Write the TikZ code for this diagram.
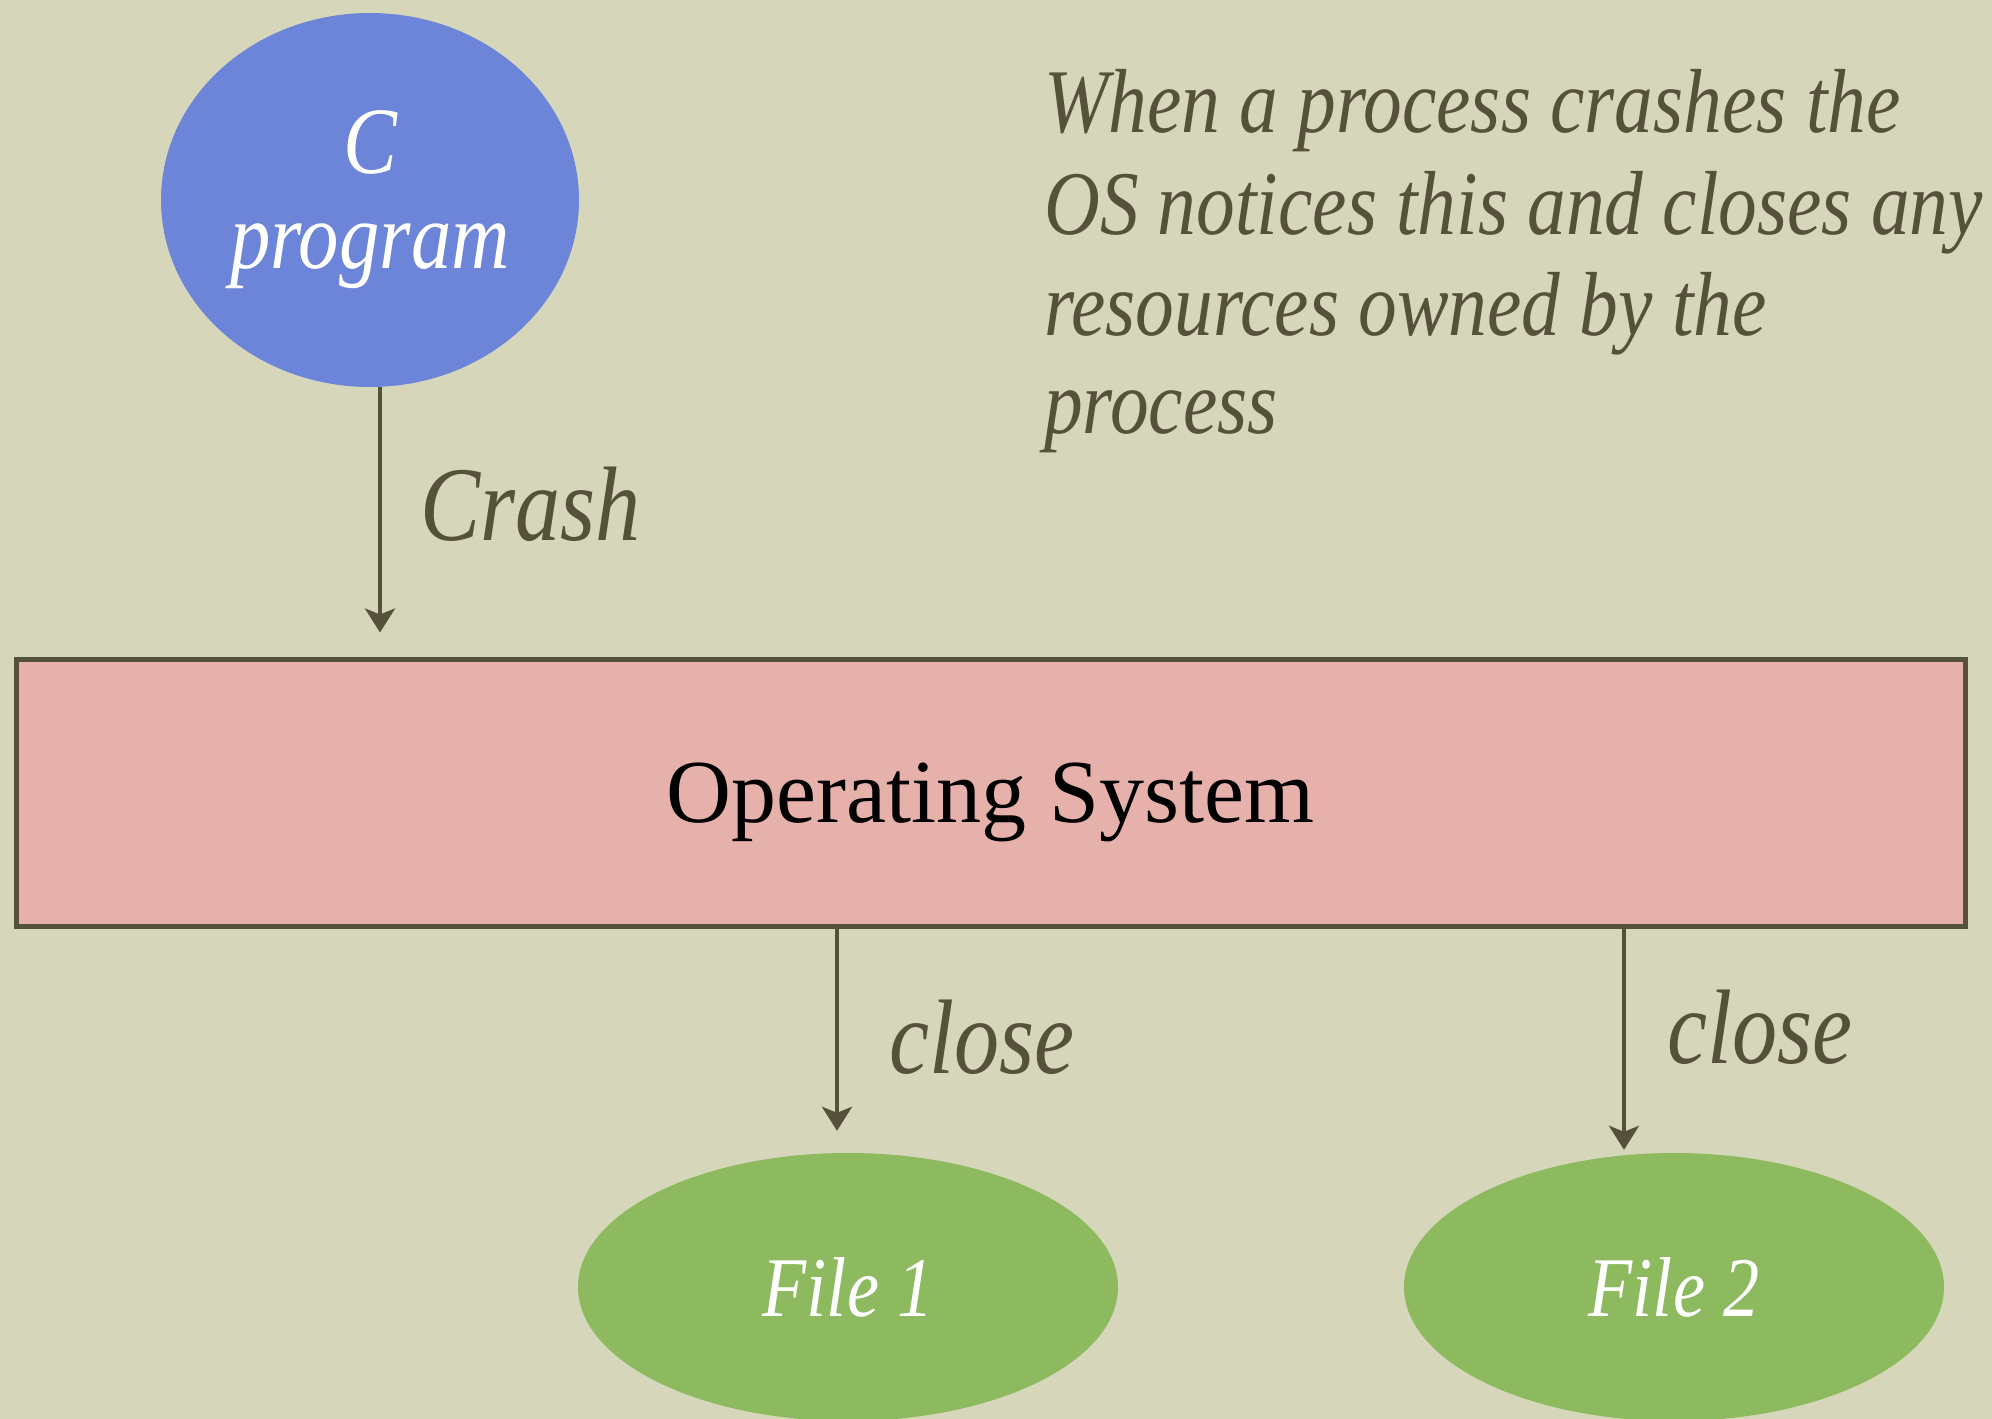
\documentclass[tikz,border=0pt]{standalone}
\usepackage{fontspec}
\setmainfont{Liberation Serif}
\newfontfamily\itf[FakeStretch=0.85,UprightFont={* Italic}]{Liberation Serif}
\usetikzlibrary{shapes.geometric,arrows.meta}
\definecolor{bgc}{HTML}{D6D7BA}
\definecolor{ink}{HTML}{55513A}
\definecolor{bluec}{HTML}{6C85D9}
\definecolor{pinkc}{HTML}{E7B1AB}
\definecolor{greenc}{HTML}{8DB95F}
\tikzset{
  arr/.style={draw=ink, line width=4pt, -{Stealth[length=24pt,width=30pt,inset=6pt]}},
  blob/.style={ellipse, inner sep=0pt, text=white},
  lbl/.style={anchor=base west, inner sep=0pt, text=ink, font=\itf\fontsize{106}{106}\selectfont},
  note/.style={anchor=base west, inner sep=0pt, text=ink, font=\itf\fontsize{91}{101}\selectfont},
}
\begin{document}
\begin{tikzpicture}[x=1pt, y=-1pt]
\useasboundingbox (0,0) rectangle (1992,1419);
\fill[bgc] (0,0) rectangle (1992,1419);
% C program
\node[blob, fill=bluec, minimum width=418pt, minimum height=374pt, align=center,
      font=\itf\fontsize{95}{95}\selectfont] (cprog) at (370,200) {C\\program};
% Operating system
\node[draw=ink, line width=5pt, fill=pinkc, minimum width=1949pt, minimum height=267pt,
      inner sep=0pt, text depth=0pt, font=\fontsize{90}{90}\selectfont] (os) at (990.5,792.5) {Operating System};
% files
\node[blob, fill=greenc, minimum width=540pt, minimum height=268pt, text depth=0pt,
      font=\itf\fontsize{85}{85}\selectfont] (file1) at (848,1287) {File 1};
\node[blob, fill=greenc, minimum width=540pt, minimum height=268pt, text depth=0pt,
      font=\itf\fontsize{85}{85}\selectfont] (file2) at (1674,1287) {File 2};
% connectors
\draw[arr, shorten >=24pt] ([xshift=10pt]cprog.south) -- ([xshift=10pt]cprog.south |- os.north);
\draw[arr] ([xshift=-11pt]file1.north |- os.south) -- ([xshift=-11pt,yshift=22pt]file1.north);
\draw[arr] ([xshift=-50pt]file2.north |- os.south) -- ([xshift=-50pt,yshift=3pt]file2.north);
% labels
\node[lbl] (crash) at (420,540) {Crash};
\node[lbl] (close1) at (889,1073) {close};
\node[lbl] (close2) at (1667,1063) {close};
% note
\node[note] (n1) at (1044,132) {When a process crashes the};
\node[note] (n2) at (1044,234) {OS notices this and closes any};
\node[note] (n3) at (1044,335) {resources owned by the};
\node[note] (n4) at (1044,433) {process};
\end{tikzpicture}
\end{document}
